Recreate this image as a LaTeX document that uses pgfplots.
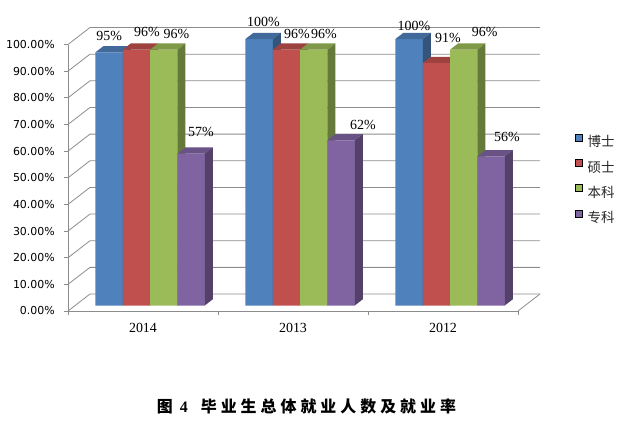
\documentclass[border=0pt]{standalone}
\usepackage{pgfplots}
\pgfplotsset{compat=1.18}
\usepackage{pgfplotstable}
\usepackage{fontspec}
\setmainfont{Liberation Serif}
\newfontfamily\dejavu{DejaVu Sans}
\newfontfamily\cjk{Noto Sans CJK SC}
\definecolor{cA}{HTML}{4F81BD}
\definecolor{cB}{HTML}{C0504D}
\definecolor{cC}{HTML}{9BBB59}
\definecolor{cD}{HTML}{8064A2}
\definecolor{gridc}{HTML}{8C8C8C}

\pgfplotstableread{
x   bs  ss  bk  zk  bsdx bsdy ssdx ssdy bkdx bkdy zkdx zkdy
0.5 95  96  96  57  0    12.3 10.5 12.7 12.6 10.7 9.8  16.6
1.5 100 96  96  62  4.3  13   10.5 10.7 10.1 10.7 21.8 10.3
2.5 100 91  96  56  4.8  9    11.5 20   21   12.7 15.8 14.3
}\datatable

% geometry (data units: 1 x-unit = 150bp, 1 y-unit = 2.665bp)
\def\bw{0.182222}  % bar width 27.33bp
\def\bx{0.047333}  % bar plane x offset 7.1bp
\def\by{2.0638}    % bar plane y offset 5.5bp
\def\ddx{0.053333} % bar depth x 8bp
\def\ddy{2.3265}   % bar depth y 6.2bp
\def\wx{0.146667}  % wall depth x 22bp
\def\wxr{3.146667}
\def\wy{6.379}     % wall depth y 17bp

\newcommand\drawfaces[3]{%
  \pgfplotsinvokeforeach{0,1,2}{%
    \pgfplotstablegetelem{##1}{#1}\of\datatable
    \pgfmathsetmacro\vt{\pgfplotsretval+\by}%
    \pgfmathsetmacro\xl{##1+0.5+(#2-2)*\bw+\bx}%
    \pgfmathsetmacro\xr{\xl+\bw}%
    \pgfmathsetmacro\xld{\xl+\ddx}%
    \pgfmathsetmacro\xrd{\xr+\ddx}%
    \pgfmathsetmacro\vtd{\vt+\ddy}%
    \pgfmathsetmacro\bd{\by+\ddy}%
    \edef\temp{%
      \noexpand\fill[#3!82!black] (axis cs:\xl,\vt) -- (axis cs:\xr,\vt) -- (axis cs:\xrd,\vtd) -- (axis cs:\xld,\vtd) -- cycle;
      \noexpand\fill[#3!65!black] (axis cs:\xr,\by) -- (axis cs:\xr,\vt) -- (axis cs:\xrd,\vtd) -- (axis cs:\xrd,\bd) -- cycle;}%
    \temp
  }%
}
\newcommand\gp{\hspace{4bp}}

\pgfplotsset{
  barlab/.style n args={3}{
    ybar, bar width=27.333bp, bar shift=#3, yshift=5.5bp, draw=none, forget plot,
    nodes near coords={\pgfmathprintnumber{\pgfplotspointmeta}\%},
    visualization depends on={\thisrow{#1dx} \as \ldx},
    visualization depends on={\thisrow{#1dy} \as \ldy},
    nodes near coords style={anchor=base, inner sep=0pt, xshift={\ldx bp+(#3)}, yshift=\ldy bp,
      font=\fontsize{14}{16}\selectfont, text=black},
  },
}

\begin{document}
\begin{tikzpicture}
\begin{axis}[
  x=150bp, y=2.665bp,
  xmin=0, xmax=3, ymin=0, ymax=100,
  clip=false,
  axis x line*=bottom, axis y line*=left,
  axis line style={draw=gridc, line width=0.8bp},
  x axis line style={-}, y axis line style={-},
  xtick={0,1,2,3}, xticklabels={,,,},
  extra x ticks={0.5,1.5,2.5},
  extra x tick labels={2014,2013,2012},
  extra x tick style={major tick length=0pt,
    xticklabel style={font=\fontsize{14}{16}\selectfont, anchor=base, yshift=-21.5bp}},
  ytick={0,10,...,100},
  yticklabel={\pgfmathprintnumber[fixed,fixed zerofill,precision=2]{\tick}\%},
  yticklabel style={font=\dejavu\fontsize{11}{13}\selectfont, anchor=east, inner sep=0pt, xshift=-9bp},
  /pgf/number format/assume math mode=true,
  tick align=outside, major tick length=4bp,
  tick style={draw=gridc, line width=0.8bp},
  legend style={at={(axis cs:3.38,68.3)}, anchor=north west, draw=none, fill=none,
    inner sep=0pt, row sep=0pt, font=\cjk\fontsize{13.5}{15}\selectfont,
    nodes={inner sep=0pt, minimum height=25.3bp, text=black!85}},
  legend image code/.code={\fill[#1] (0bp,1bp) rectangle (7bp,8bp); \path (12bp,5bp);},
  legend cell align=left,
]
% bounding box = 625 x 423
\path (axis cs:-0.453333,116.6979) rectangle (axis cs:3.713333,-42.0263);
% walls
\pgfplotsinvokeforeach{0,10,...,100}{%
  \pgfmathsetmacro\gy{#1+\wy}%
  \edef\temp{\noexpand\draw[gridc, line width=0.8bp] (axis cs:0,#1) -- (axis cs:\wx,\gy) -- (axis cs:\wxr,\gy);}%
  \temp
}
\draw[gridc, line width=0.8bp] (axis cs:3,0) -- (axis cs:\wxr,\wy);

\addplot[barlab={bs}{}{-33.9bp}, fill=cA] table[x=x, y=bs] {\datatable};
\drawfaces{bs}{0}{cA}
\addplot[barlab={ss}{}{-6.567bp}, fill=cB] table[x=x, y=ss] {\datatable};
\drawfaces{ss}{1}{cB}
\addplot[barlab={bk}{}{20.767bp}, fill=cC] table[x=x, y=bk] {\datatable};
\drawfaces{bk}{2}{cC}
\addplot[barlab={zk}{}{48.1bp}, fill=cD] table[x=x, y=zk] {\datatable};
\drawfaces{zk}{3}{cD}

\addlegendimage{fill=cA}
\addlegendimage{fill=cB}
\addlegendimage{fill=cC}
\addlegendimage{fill=cD}
\legend{博士,硕士,本科,专科}

\node[anchor=base, font=\fontsize{16}{18}\selectfont] at (axis cs:1.59,-38.27)
  {{\cjk\bfseries 图}\hspace{7bp}{\bfseries 4}\hspace{13bp}{\cjk\bfseries 毕\gp 业\gp 生\gp 总\gp 体\gp 就\gp 业\gp 人\gp 数\gp 及\gp 就\gp 业\gp 率}};
\end{axis}
\end{tikzpicture}
\end{document}
